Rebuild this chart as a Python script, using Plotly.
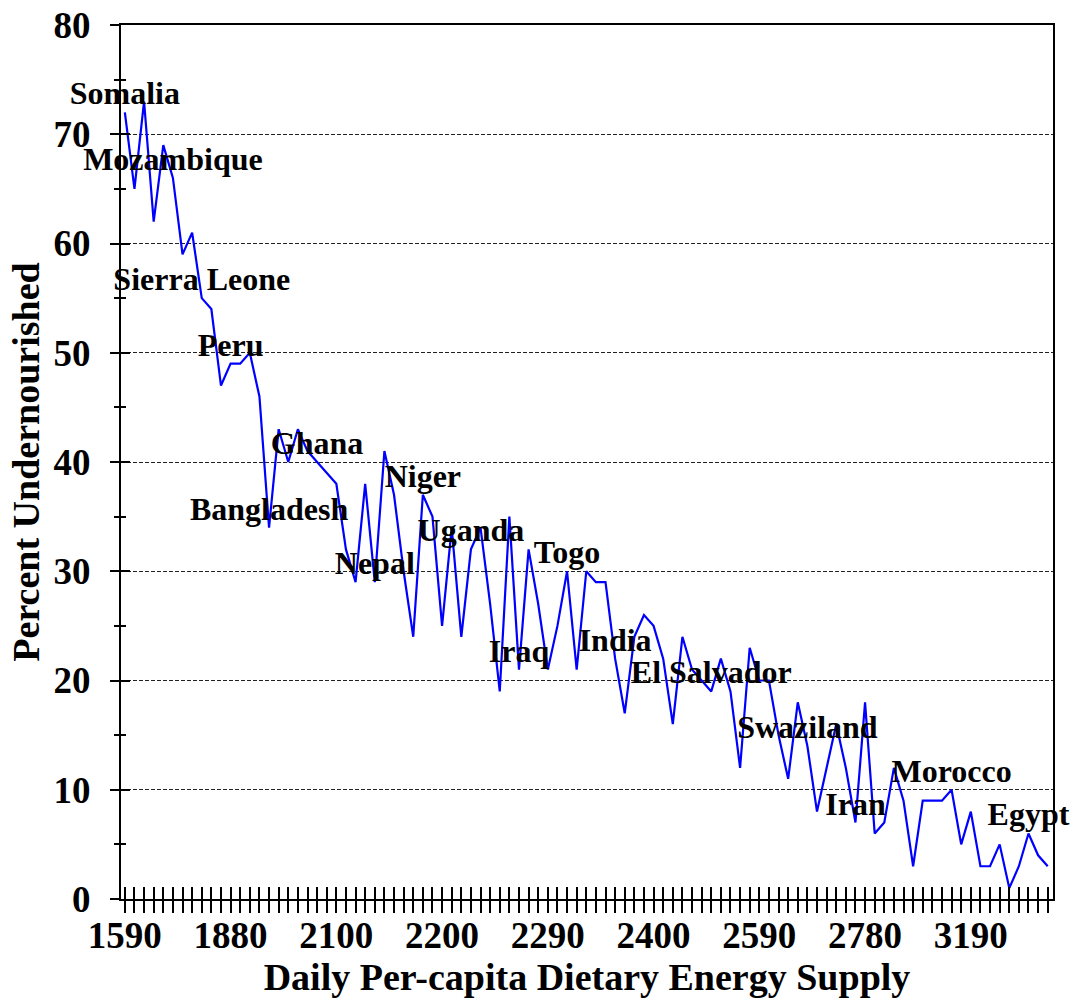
import plotly.graph_objects as go

# Daily per-capita dietary energy supply (category labels; only every 11th is shown on the axis)
des = [
    1590, 1630, 1680, 1720, 1750, 1780, 1800, 1820, 1840, 1850, 1860, 1880,
    1900, 1920, 1940, 1960, 1980, 2000, 2020, 2040, 2060, 2080, 2100,
    2110, 2120, 2130, 2140, 2150, 2160, 2170, 2180, 2190, 2195, 2200,
    2210, 2220, 2230, 2240, 2250, 2260, 2260, 2270, 2280, 2285, 2290,
    2300, 2310, 2320, 2330, 2340, 2350, 2360, 2370, 2380, 2390, 2400,
    2420, 2440, 2460, 2480, 2500, 2510, 2520, 2540, 2560, 2570, 2590,
    2600, 2620, 2640, 2660, 2680, 2700, 2710, 2730, 2750, 2760, 2780,
    2800, 2830, 2860, 2890, 2920, 2950, 2990, 3030, 3080, 3130, 3190,
    3220, 3250, 3280, 3300, 3330, 3360, 3400, 3450,
]

# Percent undernourished
undernourished = [
    72, 65, 73, 62, 69, 66, 59, 61, 55, 54, 47, 49,
    49, 50, 46, 34, 43, 40, 43, 41, 40, 39, 38,
    32, 29, 38, 29, 41, 37, 30, 24, 37, 35, 25,
    34, 24, 32, 34, 27, 19, 35, 21, 32, 27, 21,
    25, 30, 21, 30, 29, 29, 22, 17, 24, 26, 25,
    22, 16, 24, 21, 20, 19, 22, 19, 12, 23, 20,
    20, 15, 11, 18, 14, 8, 12, 16, 12, 7, 18,
    6, 7, 12, 9, 3, 9, 9, 9, 10, 5, 8,
    3, 3, 5, 1, 3, 6, 4, 3,
]

# Labelled countries and their position in the series
label_names = ["Somalia", "Mozambique", "Sierra Leone", "Peru", "Bangladesh", "Ghana",
               "Nepal", "Niger", "Uganda", "Iraq", "Togo", "India", "El Salvador",
               "Swaziland", "Iran", "Morocco", "Egypt"]
label_index = [0, 5, 8, 11, 15, 20, 26, 31, 36, 41, 46, 51, 61, 71, 76, 86, 94]

n = len(undernourished)
xs = list(range(n))
ticktext = [str(v) if i % 11 == 0 else "" for i, v in enumerate(des)]
label_y = [undernourished[i] for i in label_index]

FONT = "Liberation Serif"
xr = [-0.4, n - 1 + 0.55]
yr = [0, 80]

fig = go.Figure()
fig.add_trace(go.Scatter(
    x=xs, y=undernourished, mode="lines",
    line=dict(color="#0000FF", width=2.2), hoverinfo="skip", showlegend=False,
))
fig.add_trace(go.Scatter(
    x=label_index, y=label_y, mode="text", text=label_names,
    textposition="top center", cliponaxis=False,
    textfont=dict(family=FONT, size=32, color="black", weight="bold"),
    xaxis="x2", yaxis="y2", hoverinfo="skip", showlegend=False,
))

fig.update_layout(
    width=1076, height=1002,
    margin=dict(l=121, r=23, t=25, b=103),
    paper_bgcolor="white", plot_bgcolor="white",
    showlegend=False,
    xaxis=dict(
        range=xr, tickmode="array", tickvals=xs, ticktext=ticktext,
        ticks="outside", ticklen=12, tickwidth=2, tickcolor="black",
        showline=True, linewidth=2, linecolor="black", mirror=True,
        showgrid=False, zeroline=False, automargin=False,
        tickfont=dict(family=FONT, size=37, color="black", weight="bold"),
        tickangle=0, ticklabelstandoff=-9,
        title=dict(text="Daily Per-capita Dietary Energy Supply",
                   font=dict(family=FONT, size=38, color="black", weight="bold"),
                   standoff=6),
    ),
    xaxis2=dict(
        range=xr, overlaying="x", tickmode="array", tickvals=xs,
        ticks="inside", ticklen=12, tickwidth=2, tickcolor="black",
        showticklabels=False, showline=False, showgrid=False, zeroline=False,
        automargin=False,
    ),
    yaxis=dict(
        range=yr, dtick=10, tick0=0,
        ticks="outside", ticklen=9, tickwidth=2, tickcolor="black",
        minor=dict(dtick=5, ticks="outside", ticklen=5, tickwidth=1.5, tickcolor="black"),
        showline=True, linewidth=2, linecolor="black", mirror=True,
        showgrid=True, gridcolor="#222222", gridwidth=1, griddash="4px,2px",
        zeroline=False, automargin=False,
        tickfont=dict(family=FONT, size=37, color="black", weight="bold"),
        ticklabelstandoff=12,
        title=dict(text="Percent Undernourished",
                   font=dict(family=FONT, size=38, color="black", weight="bold"),
                   standoff=2),
    ),
    yaxis2=dict(
        range=yr, dtick=10, tick0=0, overlaying="y", side="left",
        ticks="inside", ticklen=9, tickwidth=2, tickcolor="black",
        minor=dict(dtick=5, ticks="inside", ticklen=5, tickwidth=1.5, tickcolor="black"),
        showticklabels=False, showline=False, showgrid=False, zeroline=False,
        automargin=False,
    ),
)

fig.write_html("out.html")
